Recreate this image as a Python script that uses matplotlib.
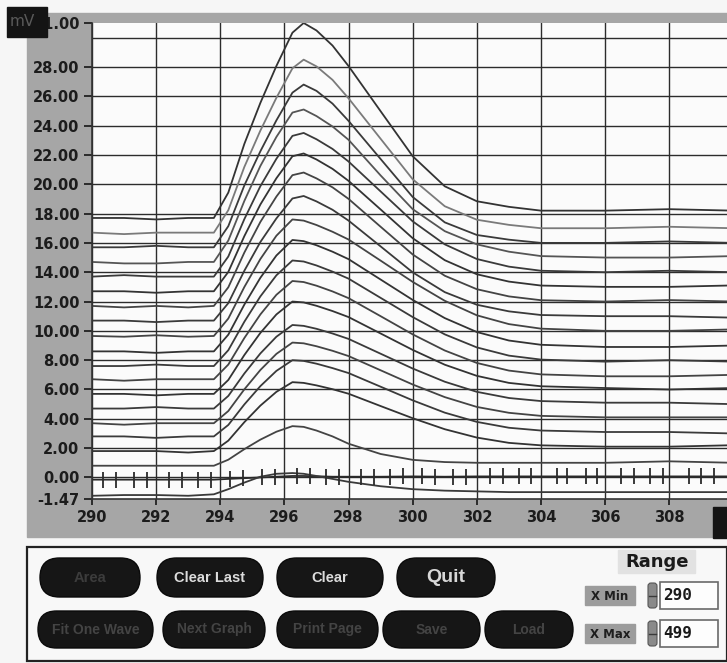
import matplotlib
matplotlib.use("Agg")
import matplotlib.pyplot as plt
from matplotlib.patches import Rectangle, FancyBboxPatch

W, H = 727, 663   # screen size in pixels

# ── Recorded sweeps (mV) on a shared time base ───────────────────────────────
t_ms = [290, 291, 292, 293, 293.8, 294.25, 294.75, 295.25, 295.75, 296.25, 296.6,
        297, 297.5, 298, 299, 300, 301, 302, 303, 304, 306, 308, 310]

sweep_01 = [17.7, 17.7, 17.6, 17.7, 17.7, 19.43, 22.75, 25.55, 28.07, 30.34, 31.0,
            30.49, 29.46, 28.06, 24.98, 21.91, 19.86, 18.84, 18.46, 18.2, 18.2, 18.3, 18.2]
sweep_02 = [16.7, 16.6, 16.7, 16.7, 16.7, 18.23, 21.18, 23.66, 25.9, 27.91, 28.5,
            28.04, 27.12, 25.86, 23.1, 20.34, 18.5, 17.58, 17.23, 17.0, 17.0, 17.1, 17.0]
sweep_03 = [15.7, 15.7, 15.8, 15.7, 15.7, 17.14, 19.92, 22.25, 24.36, 26.25, 26.8,
            26.37, 25.5, 24.32, 21.72, 19.13, 17.4, 16.54, 16.22, 16.0, 16.0, 16.1, 16.0]
sweep_04 = [14.7, 14.6, 14.6, 14.7, 14.7, 16.16, 18.86, 21.25, 23.23, 24.89, 25.1,
            24.65, 23.94, 23.03, 20.6, 18.3, 16.8, 15.9, 15.4, 15.1, 15.0, 15.0, 15.1]
sweep_05 = [13.7, 13.8, 13.7, 13.7, 13.7, 15.07, 17.62, 19.87, 21.74, 23.3, 23.5,
            23.07, 22.41, 21.55, 19.51, 17.47, 15.9, 14.9, 14.38, 14.1, 14.0, 14.1, 14.0]
sweep_06 = [12.7, 12.7, 12.6, 12.7, 12.7, 14.02, 16.46, 18.62, 20.41, 21.91, 22.1,
            21.69, 21.05, 20.23, 18.28, 16.32, 14.82, 13.86, 13.36, 13.09, 13.0, 13.0, 13.1]
sweep_07 = [11.7, 11.6, 11.7, 11.6, 11.7, 12.97, 15.34, 17.43, 19.16, 20.62, 20.8,
            20.4, 19.79, 19.0, 17.1, 15.21, 13.76, 12.84, 12.35, 12.09, 12.0, 12.1, 12.0]
sweep_08 = [10.7, 10.7, 10.6, 10.7, 10.7, 11.89, 14.1, 16.06, 17.67, 19.03, 19.2,
            18.83, 18.26, 17.52, 15.76, 13.99, 12.64, 11.78, 11.33, 11.08, 11.0, 11.0, 10.9]
sweep_09 = [9.65, 9.6, 9.7, 9.6, 9.65, 10.84, 12.99, 14.9, 16.49, 17.6, 17.52,
            17.22, 16.76, 16.23, 14.79, 13.34, 12.05, 11.06, 10.46, 10.15, 10.0, 10.0, 10.1]
sweep_10 = [8.6, 8.6, 8.5, 8.6, 8.6, 9.74, 11.79, 13.62, 15.14, 16.2, 16.12,
            15.84, 15.4, 14.89, 13.5, 12.11, 10.87, 9.92, 9.34, 9.05, 8.9, 8.9, 9.0]
sweep_11 = [7.6, 7.6, 7.7, 7.6, 7.6, 8.68, 10.62, 12.35, 13.79, 14.8, 14.73,
            14.46, 14.04, 13.56, 12.25, 10.94, 9.76, 8.87, 8.31, 8.04, 7.9, 8.0, 7.9]
sweep_12 = [6.7, 6.6, 6.7, 6.7, 6.7, 7.7, 9.51, 11.12, 12.46, 13.4, 13.33,
            13.08, 12.69, 12.23, 11.0, 9.76, 8.66, 7.81, 7.29, 7.03, 6.9, 6.9, 7.0]
sweep_13 = [5.7, 5.7, 5.6, 5.7, 5.7, 6.65, 8.35, 9.86, 11.12, 12.0, 11.94,
            11.71, 11.35, 10.94, 9.82, 8.7, 7.69, 6.93, 6.45, 6.22, 6.1, 6.0, 6.1]
sweep_14 = [4.7, 4.7, 4.8, 4.7, 4.7, 5.56, 7.09, 8.46, 9.6, 10.4, 10.34,
            10.14, 9.82, 9.45, 8.44, 7.43, 6.53, 5.84, 5.42, 5.21, 5.1, 5.1, 5.0]
sweep_15 = [3.7, 3.6, 3.7, 3.7, 3.7, 4.53, 6.01, 7.33, 8.43, 9.2, 9.15,
            8.95, 8.64, 8.28, 7.31, 6.34, 5.48, 4.81, 4.41, 4.2, 4.1, 4.1, 4.1]
sweep_16 = [2.8, 2.8, 2.7, 2.8, 2.8, 3.58, 4.98, 6.23, 7.27, 8.0, 7.95,
            7.76, 7.46, 7.12, 6.19, 5.26, 4.42, 3.79, 3.39, 3.2, 3.1, 3.1, 3.0]
sweep_17 = [1.8, 1.8, 1.8, 1.7, 1.8, 2.51, 3.77, 4.9, 5.84, 6.5, 6.45,
            6.28, 6.02, 5.71, 4.87, 4.04, 3.29, 2.72, 2.36, 2.19, 2.1, 2.1, 2.2]
sweep_18 = [0.8, 0.8, 0.8, 0.8, 0.8, 1.21, 1.93, 2.58, 3.12, 3.5, 3.45,
            3.2, 2.8, 2.3, 1.6, 1.2, 1.05, 1.0, 1.0, 1.0, 1.0, 1.1, 1.0]
sweep_19 = [-0.15, -0.15, -0.15, -0.15, -0.15, -0.1, -0.05, 0.0, 0.05, 0.1, 0.1,
            0.08, 0.05, 0.05, 0.05, 0.07, 0.05, 0.07, 0.07, 0.07, 0.07, 0.07, 0.07]
sweep_20 = [-1.25, -1.2, -1.2, -1.25, -1.15, -0.8, -0.35, 0.05, 0.25, 0.3, 0.25,
            0.1, -0.1, -0.3, -0.6, -0.8, -0.9, -0.95, -1.0, -1.0, -1.0, -1.0, -1.0]

sweeps = [sweep_01, sweep_02, sweep_03, sweep_04, sweep_05, sweep_06, sweep_07,
          sweep_08, sweep_09, sweep_10, sweep_11, sweep_12, sweep_13, sweep_14,
          sweep_15, sweep_16, sweep_17, sweep_18, sweep_19, sweep_20]

# sample markers on the reference sweep (sweep_19)
marker_x = [290.35, 290.75, 291.3, 291.7, 292.4, 292.8, 293.3, 293.7, 294.3, 294.7,
            295.3, 295.7, 296.4, 296.8, 297.3, 297.7, 298.4, 298.8, 299.3, 299.7,
            300.3, 300.7, 301.25, 301.65, 302.4, 302.8, 303.3, 303.7, 304.5, 304.8,
            305.4, 305.75, 306.5, 306.9, 307.4, 307.8, 308.6, 309.0, 309.4]
marker_y = [-0.15, -0.15, -0.15, -0.15, -0.15, -0.15, -0.15, -0.15, -0.1, -0.05,
            0.0, 0.05, 0.1, 0.08, 0.05, 0.05, 0.05, 0.05, 0.06, 0.07,
            0.07, 0.06, 0.05, 0.06, 0.07, 0.07, 0.07, 0.07, 0.07, 0.07,
            0.07, 0.07, 0.07, 0.07, 0.07, 0.07, 0.07, 0.07, 0.07]

x_ticks = [290, 292, 294, 296, 298, 300, 302, 304, 306, 308]
y_ticks = [-1.47, 0, 2, 4, 6, 8, 10, 12, 14, 16, 18, 20, 22, 24, 26, 28, 31]
grid_y = [0, 2, 4, 6, 8, 10, 12, 14, 16, 18, 20, 22, 24, 26, 28, 30]

buttons_top = ["Area", "Clear Last", "Clear", "Quit"]
buttons_bottom = ["Fit One Wave", "Next Graph", "Print Page", "Save", "Load"]
x_min_value, x_max_value = "290", "499"

LABEL_FONT = dict(family="DejaVu Sans", weight="bold", size=10.5, color="#1c1c1c")

fig = plt.figure(figsize=(W / 100, H / 100), dpi=100, facecolor="#f6f6f6")

# ── Background panel (pixel coordinates) ─────────────────────────────────────
bg = fig.add_axes([0, 0, 1, 1], zorder=0)
bg.set_xlim(0, W)
bg.set_ylim(H, 0)
bg.axis("off")
bg.add_patch(Rectangle((27, 13), W - 27, 524, color="#a6a6a6"))

# control panel underneath the graph
bg.add_patch(Rectangle((27, 547), W - 27, 114, facecolor="#f8f8f8",
                       edgecolor="#222222", lw=1.6))

def pill(x0, y0, w, h, text, color, size, family="Liberation Sans"):
    bg.add_patch(FancyBboxPatch((x0, y0), w, h,
                                boxstyle=f"round,pad=0,rounding_size={h / 2}",
                                facecolor="#161616", edgecolor="#0a0a0a", lw=1))
    bg.text(x0 + w / 2, y0 + h / 2, text, ha="center", va="center",
            color=color, fontsize=size, family=family, weight="bold")

top_row = [(40, 100), (157, 106), (277, 106), (397, 98)]
for (x0, w), name in zip(top_row, buttons_top):
    if name == "Quit":
        pill(x0, 558, w, 39, name, "#d8d8d8", 14)
    elif name == "Area":
        pill(x0, 558, w, 39, name, "#3c3c3c", 10.5)
    else:
        pill(x0, 558, w, 39, name, "#dcdcdc", 10.5)

bottom_row = [(38, 115), (163, 102), (277, 101), (383, 97), (485, 88)]
for (x0, w), name in zip(bottom_row, buttons_bottom):
    pill(x0, 611, w, 37, name, "#444444", 10)

# Range controls
bg.add_patch(Rectangle((618, 550), 77, 23, color="#e2e2e2"))
bg.text(657, 562, "Range", ha="center", va="center", family="DejaVu Sans",
        weight="bold", size=13, color="#1a1a1a")
for y0, name, value in [(586, "X Min", x_min_value), (624, "X Max", x_max_value)]:
    bg.add_patch(Rectangle((585, y0), 50, 19, color="#9c9c9c"))
    bg.text(610, y0 + 10, name, ha="center", va="center", family="DejaVu Sans",
            weight="bold", size=8.5, color="#1e1e1e")
    bg.add_patch(FancyBboxPatch((648, y0 - 3), 9, 25, boxstyle="round,pad=0,rounding_size=3",
                                facecolor="#8a8a8a", edgecolor="#555555", lw=0.8))
    bg.plot([649, 656], [y0 + 9.5, y0 + 9.5], color="#3a3a3a", lw=1)
    bg.add_patch(Rectangle((660, y0 - 4), 58, 27, facecolor="#fdfdfd",
                           edgecolor="#6a6a6a", lw=1.2))
    bg.text(663, y0 + 10, value, ha="left", va="center", family="DejaVu Sans Mono",
            weight="bold", size=11.5, color="#1a1a1a")

# ── Graph ────────────────────────────────────────────────────────────────────
ax = fig.add_axes([92 / W, 1 - 499 / H, (W - 92) / W, 476 / H], zorder=1)
ax.set_facecolor("#fbfbfb")
ax.set_xlim(290, 309.8)
ax.set_ylim(-1.47, 31.0)

for gx in x_ticks:
    ax.axvline(gx, color="#2c2c2c", lw=1.0, zorder=1)
for gy in grid_y:
    ax.axhline(gy, color="#2c2c2c", lw=1.0, zorder=1)

shades = ["#333333", "#7a7a7a", "#3a3a3a", "#555555", "#3a3a3a", "#333333", "#444444",
          "#3a3a3a", "#444444", "#333333", "#3a3a3a", "#444444", "#333333", "#3a3a3a",
          "#444444", "#3a3a3a", "#333333", "#444444", "#2a2a2a", "#3a3a3a"]
for sweep, shade in zip(sweeps, shades):
    ax.plot(t_ms, sweep, color=shade, lw=1.3, zorder=2)
ax.plot(marker_x, marker_y, ls="none", marker="|", ms=11, mew=1.3,
        color="#2a2a2a", zorder=3)

ax.set_xticks(x_ticks)
ax.set_xticklabels([str(v) for v in x_ticks])
ax.set_yticks(y_ticks)
ax.set_yticklabels([f"{v:.2f}" for v in y_ticks])
ax.tick_params(axis="y", direction="out", length=6, width=1.3, pad=3, colors="#222222")
ax.tick_params(axis="x", direction="out", length=4, width=1.3, pad=4, colors="#222222")
for lbl in ax.get_xticklabels() + ax.get_yticklabels():
    lbl.set(**LABEL_FONT)
for side in ["top", "right"]:
    ax.spines[side].set_visible(False)
for side in ["left", "bottom"]:
    ax.spines[side].set_color("#333333")
    ax.spines[side].set_linewidth(1.2)

# ── Unit boxes drawn over the axis labels ────────────────────────────────────
fg = fig.add_axes([0, 0, 1, 1], zorder=2)
fg.set_xlim(0, W)
fg.set_ylim(H, 0)
fg.axis("off")
fg.patch.set_alpha(0)
fg.add_patch(Rectangle((7, 7), 40, 30, color="#141414"))
fg.text(22, 22, "mV", ha="center", va="center", family="DejaVu Sans",
        size=11, color="#5a5a5a")
fg.add_patch(Rectangle((713, 507), 14, 31, color="#141414"))

fig.savefig("out.png", dpi=100, facecolor=fig.get_facecolor())
